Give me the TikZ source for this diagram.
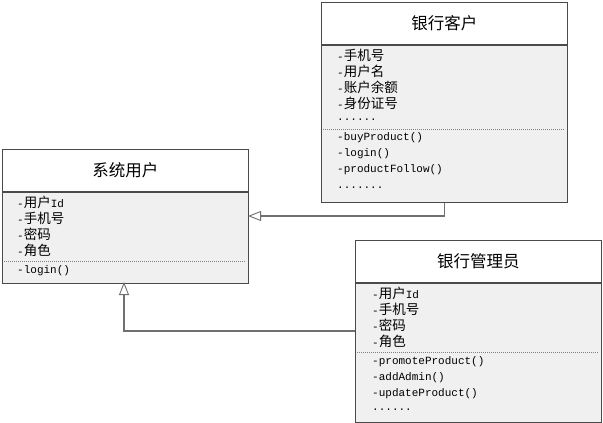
\documentclass[tikz,border=0pt]{standalone}
\usepackage{fontspec}
\setmainfont{Liberation Mono}
\newfontfamily\cjk{Noto Sans CJK SC}
\usetikzlibrary{arrows.meta}
\newcommand{\zh}[1]{{\cjk\fontsize{13.5}{15}\selectfont #1}}
\definecolor{umlfill}{HTML}{F0F0F0}
\definecolor{umlline}{HTML}{4A4A4A}
\definecolor{umlconn}{HTML}{707070}

\begin{document}
\begin{tikzpicture}[x=1pt,y=-1pt,title/.style={draw=umlline,fill=white,line width=0.9pt,minimum width=246pt,minimum height=42pt,anchor=north west,inner sep=0pt,font=\cjk\fontsize{16.5}{19}\selectfont},body/.style={draw=umlline,fill=umlfill,line width=0.9pt,minimum width=246pt,anchor=north west,inner sep=0pt},item/.style={anchor=west,inner sep=0pt,font=\fontsize{11}{13}\selectfont},sep/.style={draw=gray,line width=0.8pt,dash pattern=on 1pt off 1pt},inherit/.style={draw=umlconn,line width=1.2pt,-{Triangle[length=13pt,width=10pt,fill=white,line width=0.9pt]}}]
\useasboundingbox (0,0) rectangle (603,423);
% system user
\node[title] (userH) at (2,149) {系统用户};
\node[body,minimum height=91pt] (userB) at (userH.south west) {};
\node[item] (userA1) at (17,202) {-\zh{用户}Id};
\node[item] (userA2) at (17,218) {-\zh{手机号}};
\node[item] (userA3) at (17,234) {-\zh{密码}};
\node[item] (userA4) at (17,250) {-\zh{角色}};
\draw[sep] (4,261) -- (246,261);
\node[item] (userM1) at (17,271) {-login()};
% bank customer
\node[title] (custH) at (321,2) {银行客户};
\node[body,minimum height=157pt] (custB) at (custH.south west) {};
\node[item] (custA1) at (337,55) {-\zh{手机号}};
\node[item] (custA2) at (337,71) {-\zh{用户名}};
\node[item] (custA3) at (337,87) {-\zh{账户余额}};
\node[item] (custA4) at (337,103) {-\zh{身份证号}};
\node[item] (custA5) at (337,120) {......};
\draw[sep] (323,129) -- (565,129);
\node[item] (custM1) at (337,138) {-buyProduct()};
\node[item] (custM2) at (337,154) {-login()};
\node[item] (custM3) at (337,170) {-productFollow()};
\node[item] (custM4) at (337,188) {.......};
% bank admin
\node[title] (admH) at (355,240) {银行管理员};
\node[body,minimum height=139pt] (admB) at (admH.south west) {};
\node[item] (admA1) at (372,293) {-\zh{用户}Id};
\node[item] (admA2) at (372,309) {-\zh{手机号}};
\node[item] (admA3) at (372,325) {-\zh{密码}};
\node[item] (admA4) at (372,341) {-\zh{角色}};
\draw[sep] (357,352) -- (599,352);
\node[item] (admM1) at (372,362) {-promoteProduct()};
\node[item] (admM2) at (372,378) {-addAdmin()};
\node[item] (admM3) at (372,394) {-updateProduct()};
\node[item] (admM4) at (372,410) {......};
% generalizations
\coordinate (userIn) at (248,216);
\coordinate (userBot) at (124,282);
\coordinate (admOut) at (355,331);
\draw[inherit] (custB.south) |- (userIn);
\draw[inherit] (admOut) -| (userBot);
\end{tikzpicture}
\end{document}
